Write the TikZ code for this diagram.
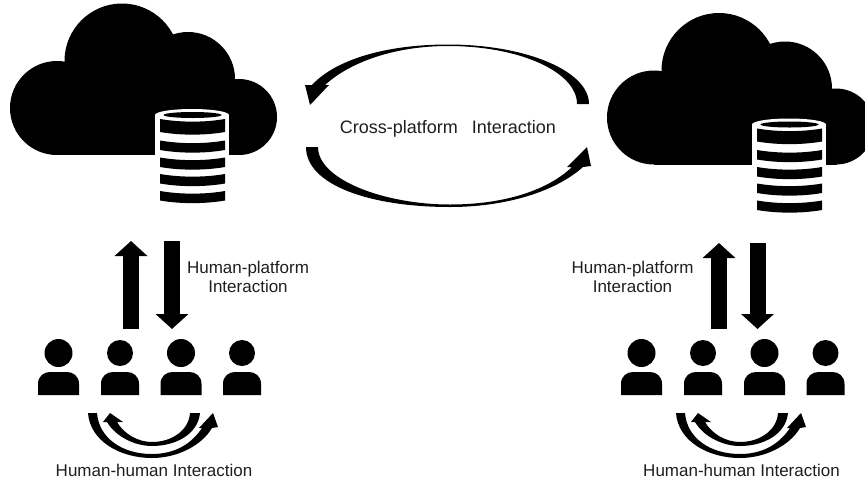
\documentclass[tikz,border=0pt]{standalone}
\usepackage{fontspec}
\setmainfont{Liberation Sans}
\usetikzlibrary{arrows.meta}
\tikzset{
  x=1pt,y=-1pt,
  label text/.style={font=\fontsize{17}{19}\selectfont,text=black!88,align=center,inner sep=0pt},
  cross text/.style={font=\fontsize{18}{19}\selectfont,text=black!88,inner sep=0pt},
  blockarrow/.style={line width=16pt,-{Triangle[length=15pt,width=32pt]}},
  cloud/.pic={
    \fill (57,108) circle (47) (122,61) circle (57.5) (188,79) circle (47) (239,117) circle (38);
    \fill (57,80) rectangle (240,155);
    \fill[white] (155,115) rectangle (229,210);
    \fill[white] (192,115) ellipse [x radius=37,y radius=6];
    \fill (192.5,115) ellipse [x radius=29,y radius=3];
    \foreach \t/\h in {119/13,140.5/9.5,157.5/9.5,174/9.5,191/9.5}{
      \fill (160,\t) .. controls (180,\t+3.5) and (205,\t+3.5) .. (225,\t)
        -- (225,\t+\h) .. controls (205,\t+\h+3.5) and (180,\t+\h+3.5) .. (160,\t+\h) -- cycle;
    }
  },
  person/.pic={
    \fill (0,0) circle (\pgfkeysvalueof{/tikz/headr});
    \fill (-\pgfkeysvalueof{/tikz/bodyw},42) -- (-\pgfkeysvalueof{/tikz/bodyw},31)
      .. controls (-\pgfkeysvalueof{/tikz/bodyw},23) and (-\pgfkeysvalueof{/tikz/bodyw}+6,19) .. (-\pgfkeysvalueof{/tikz/bodyw}+12,19)
      -- (\pgfkeysvalueof{/tikz/bodyw}-12,19)
      .. controls (\pgfkeysvalueof{/tikz/bodyw}-6,19) and (\pgfkeysvalueof{/tikz/bodyw},23) .. (\pgfkeysvalueof{/tikz/bodyw},31)
      -- (\pgfkeysvalueof{/tikz/bodyw},42) -- cycle;
  },
  headr/.initial=14, bodyw/.initial=20.5,
  wide/.style={headr=14,bodyw=20.5},
  narrow/.style={headr=13,bodyw=19},
  smallarcs/.pic={
    % outer arc
    \fill (88,413) .. controls (90,441) and (120,458) .. (152,458)
      .. controls (178,458) and (202,445) .. (212,428)
      -- (218,427) -- (213,413) -- (199,428) -- (202,428)
      .. controls (192,443) and (176,454) .. (152,454)
      .. controls (122,454) and (99,438) .. (97,413) -- cycle;
    % inner arc
    \fill (200,413) .. controls (198,434) and (176,446) .. (152,446)
      .. controls (135,446) and (116,437) .. (107,422)
      -- (103,422) -- (110,413) -- (123,422) -- (117,422)
      .. controls (124,434) and (138,442) .. (152,442)
      .. controls (172,442) and (189,430) .. (190,413) -- cycle;
  }
}
\begin{document}
\begin{tikzpicture}
\useasboundingbox (0,0) rectangle (865,483);
\clip (0,0) rectangle (865,483);
\fill[white] (0,0) rectangle (865,483);

\pic at (0,0) {cloud};
\pic at (597,9.5) {cloud};

% people, left
\pic[wide] at (58.5,353) {person};
\pic[narrow] at (120,353) {person};
\pic[wide] at (181,353) {person};
\pic[narrow] at (242,353) {person};
% people, right
\pic[wide] at (641.5,353) {person};
\pic[narrow] at (703,353) {person};
\pic[wide] at (764.5,353) {person};
\pic[narrow] at (825.5,353) {person};

% block arrows
\coordinate (lua) at (131,329); \coordinate (lub) at (131,241);
\coordinate (lda) at (172,241); \coordinate (ldb) at (172,329);
\coordinate (rua) at (719,329); \coordinate (rub) at (719,243);
\coordinate (rda) at (757.5,243); \coordinate (rdb) at (757.5,329);
\draw[blockarrow] (lua) -- (lub);
\draw[blockarrow] (lda) -- (ldb);
\draw[blockarrow] (rua) -- (rub);
\draw[blockarrow] (rda) -- (rdb);

% cross-platform arcs
\fill (589,104) .. controls (589,71) and (526,44.5) .. (448,44.5)
  .. controls (385,44.5) and (335,60) .. (312,85)
  -- (305,85) -- (310,105) -- (329,85) -- (325,85)
  .. controls (350,62) and (395,46) .. (448,46)
  .. controls (520,46) and (577,72) .. (577,104) -- cycle;
\fill (306,147) .. controls (306,185) and (370,207) .. (450,207)
  .. controls (505,207) and (555,192) .. (583,167)
  -- (591,166) -- (587,147) -- (567,167) -- (572,167)
  .. controls (548,190) and (505,204.5) .. (450,204.5)
  .. controls (385,204.5) and (318,180) .. (318,147) -- cycle;

% small arcs
\pic at (0,0) {smallarcs};
\pic at (588,0) {smallarcs};

% text
\node[cross text] (cross) at (448,128.5) {Cross-platform\hspace{0.5em} Interaction};
\node[label text] (hpl) at (248,276.5) {Human-platform\\Interaction};
\node[label text] (hpr) at (632.5,276.5) {Human-platform\\Interaction};
\node[label text] (hhl) at (154,470) {Human-human Interaction};
\node[label text] (hhr) at (741.5,470) {Human-human Interaction};
\end{tikzpicture}
\end{document}
